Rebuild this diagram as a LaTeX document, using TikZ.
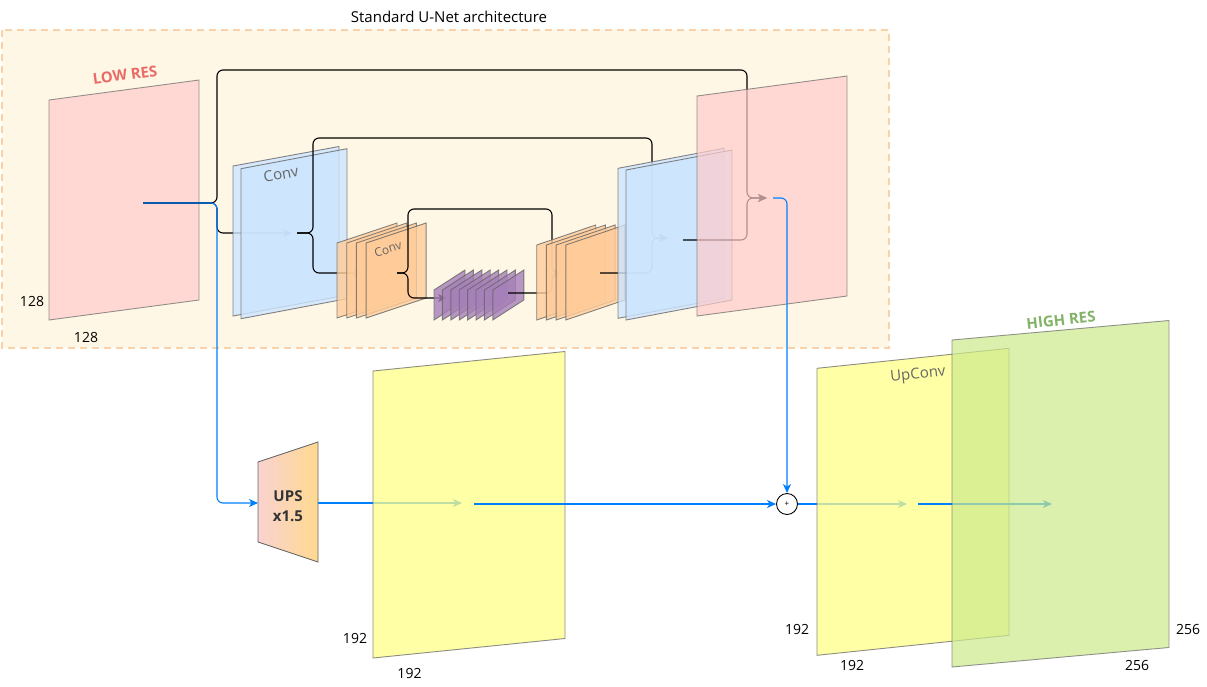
\documentclass[tikz,border=0pt]{standalone}
\usepackage{fontspec}
\setmainfont{Open Sans}
\usetikzlibrary{arrows.meta}
\definecolor{boxfill}{HTML}{FFF7E6}
\definecolor{boxline}{HTML}{F8D3AA}
\definecolor{pinkf}{HTML}{FFCCCC}
\definecolor{bluef}{HTML}{CCE5FF}
\definecolor{orangef}{HTML}{FFCC99}
\definecolor{purplef}{HTML}{A680B8}
\definecolor{yellowf}{HTML}{FFFF88}
\definecolor{greenf}{HTML}{CDEB8B}
\definecolor{planeline}{HTML}{666666}
\definecolor{linkblue}{HTML}{007FFF}
\definecolor{lowres}{HTML}{EA6B66}
\definecolor{highres}{HTML}{82B366}
\definecolor{upsl}{HTML}{F9D3D0}
\definecolor{upsr}{HTML}{FFD98F}
\definecolor{convgray}{HTML}{666666}
\definecolor{upstext}{HTML}{333333}
\newcommand{\fsz}[1]{\fontsize{#1}{#1}\selectfont}
\newcommand{\drawplane}[6]{\path[#6] (#1,#2) -- ++(#3,-#5) -- ++(0,#4) -- ++(-#3,#5) -- cycle;}
\begin{document}
\begin{tikzpicture}[x=1pt,y=-1pt,
  conn/.style={line width=1.1pt, rounded corners=6pt, -{Stealth[length=9pt,width=8pt,inset=2.5pt]}},
  blk/.style={conn,draw=black},
  blu/.style={conn,draw=linkblue},
  planestyle/.style={draw=planeline, line width=0.9pt, line join=miter},
  pinkp/.style={planestyle, fill=pinkf, opacity=0.7},
  bluep/.style={planestyle, fill=bluef, opacity=0.8},
  orangep/.style={planestyle, fill=orangef, opacity=0.8},
  purplep/.style={planestyle, fill=purplef, opacity=0.8},
  yellowp/.style={planestyle, fill=yellowf, opacity=0.75},
  greenp/.style={planestyle, fill=greenf, opacity=0.7},
  num/.style={font=\fsz{14}, text=black, inner sep=0pt},
  convlbl/.style={text=convgray, inner sep=0pt},
]
\useasboundingbox (0,0) rectangle (1207,686);
\fill[white] (0,0) rectangle (1207,686);

% U-Net frame
\path[fill=boxfill, draw=boxline, line width=1.6pt, dash pattern=on 7pt off 5pt] (2,30) rectangle (889,348);
\node[font=\fsz{15}, inner sep=0pt] (title) at (449,17) {Standard U-Net architecture};

% connector end points
\coordinate (pe) at (143,203);
\coordinate (c1in) at (292,233);
\coordinate (c1) at (297,233);
\coordinate (o1in) at (363,273);
\coordinate (o1) at (397,273);
\coordinate (puin) at (447,298);
\coordinate (pu) at (508,293);
\coordinate (o2in) at (563,273);
\coordinate (o2) at (600,273);
\coordinate (b2in) at (668,238);
\coordinate (b2) at (683,240);
\coordinate (pdin) at (767,198);
\coordinate (pd) at (773,198);
\coordinate (upsin) at (258,503);
\coordinate (upsout) at (318,503);
\coordinate (y1in) at (462,503);
\coordinate (y1) at (474,504);
\coordinate (y2in) at (907,504);
\coordinate (y2) at (918,504);
\coordinate (gin) at (1052,504);

% low-res input
\drawplane{49}{100}{150}{220}{20}{pinkp}
\node[font=\bfseries\fsz{15}, text=lowres, rotate=7.5, inner sep=0pt] (lowres) at (125,75) {LOW RES};
\node[num] (n128a) at (32,301) {128};
\node[num] (n128b) at (86,337) {128};

\draw[blk] (pe) -| (217,70) -| (747,198) -- (pdin);
\draw[blk] (pe) -| (217,233) -- (c1in);
\draw[blu] (pe) -| (217,503) -- (upsin);

% encoder conv 1
\drawplane{233}{166}{106}{150}{19.5}{bluep}
\drawplane{241}{168.7}{106}{150}{20}{bluep}
\node[convlbl, font=\fsz{15}, rotate=11] (conv1) at (281,174) {Conv};

\draw[blk] (c1) -| (313,138) -| (652,238) -- (b2in);
\draw[blk] (c1) -| (313,273) -- (o1in);

% encoder conv 2
\foreach \i in {0,...,3}{\drawplane{337+9.7*\i}{243}{60}{75}{20}{orangep}}
\node[convlbl, font=\fsz{12}, rotate=17] (conv2) at (388,249) {Conv};

\draw[blk] (o1) -| (408,209) -| (552,273) -- (o2in);
\draw[blk] (o1) -| (408,298) -- (puin);

% bottleneck
\foreach \i in {0,...,7}{\drawplane{434+8.4*\i}{290}{31}{30}{20}{purplep}}

\draw[blk] (pu) -| (552,273) -- (o2in);

% decoder conv 2
\foreach \i in {0,...,3}{\drawplane{536.7+9.7*\i}{245}{59}{75}{20}{orangep}}

\draw[blk] (o2) -| (652,238) -- (b2in);

% decoder conv 1
\drawplane{618}{168.3}{106}{150}{20}{bluep}
\drawplane{626}{170}{106}{150}{20}{bluep}

\draw[blk] (b2) -| (747,198) -- (pdin);

% U-Net output
\drawplane{697}{96}{150}{220}{20}{pinkp}

% sum node
\node[circle, draw=black, fill=white, line width=0.9pt, inner sep=0pt, minimum size=21pt, font=\fsz{8}] (plus) at (787,504) {+};
\draw[blu] (pd) -| (plus.north);

% upsampling branch
\path[draw=planeline, line width=0.9pt, left color=upsl, right color=upsr] (258,462) -- (318,442) -- (318,562) -- (258,542) -- cycle;
\node[font=\bfseries\fontsize{15}{20}\selectfont, text=upstext, align=center, inner sep=0pt] (ups) at (288,506) {UPS\\x1.5};

\draw[blu] (upsout) -- (y1in);

\drawplane{373}{371}{192}{287}{19.5}{yellowp}
\node[num] (n192a) at (355,638) {192};
\node[num] (n192b) at (409.5,673) {192};

\draw[blu] (y1) -- (plus.west);
\draw[blu] (plus.east) -- (y2in);

% UpConv
\drawplane{817}{368.3}{192}{287}{20}{yellowp}
\node[convlbl, font=\fsz{15}, rotate=6] (upconv) at (918,375) {UpConv};
\node[num] (n192c) at (797,629) {192};
\node[num] (n192d) at (852,665) {192};

\draw[blu] (y2) -- (gin);

% high-res output
\drawplane{952}{340}{217}{327}{19.5}{greenp}
\node[font=\bfseries\fsz{15}, text=highres, rotate=6.5, inner sep=0pt] (highres) at (1061,320) {HIGH RES};
\node[num] (n256a) at (1188,629) {256};
\node[num] (n256b) at (1137,665) {256};
\end{tikzpicture}
\end{document}
